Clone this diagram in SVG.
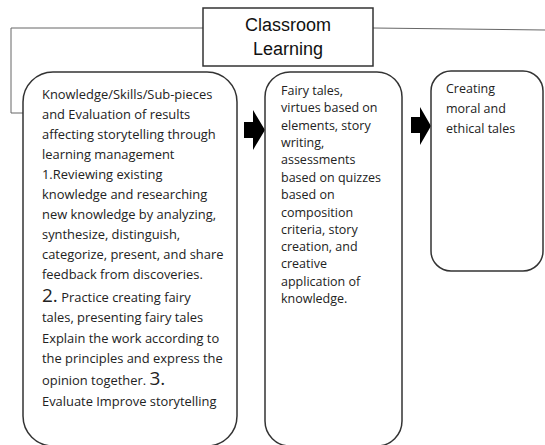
<svg xmlns="http://www.w3.org/2000/svg" width="545" height="445" viewBox="0 0 545 445">
<style>
.box{fill:#fff;stroke:#333;stroke-width:1.5}
.ln{fill:none;stroke:#666;stroke-width:1}
.t{font-family:"Open Sans","Liberation Sans",sans-serif;font-size:12.5px;fill:#222}
.tl{font-size:12.9px}
.big{font-size:19px}
.title{font-family:"Liberation Sans",Arial,sans-serif;font-size:18px;fill:#111;text-anchor:middle}
.arr{fill:#000}
</style>
<rect width="545" height="445" fill="#fff"/>
<g id="connectors">
<polyline class="ln" points="203,28 11,28 11,113 27,113"/>
<line class="ln" x1="373" y1="28" x2="545" y2="30"/>
<polygon class="arr" points="244,122 253,122 253,110 265,130 253,150 253,138 244,138"/>
<polygon class="arr" points="411,117 420,117 420,107 431,126 420,145 420,133 411,133"/>
</g>
<g id="title">
<rect x="203" y="8" width="170" height="58" fill="#fff" stroke="#333" stroke-width="1.5"/>
<text class="title" x="288" y="31">Classroom</text>
<text class="title" x="288" y="55">Learning</text>
</g>
<g id="knowledge">
<rect class="box" x="23" y="72" width="214" height="374" rx="30" ry="30"/>
<g class="t tl">
<text x="42" y="99">Knowledge/Skills/Sub-pieces</text>
<text x="42" y="119">and Evaluation of results</text>
<text x="42" y="139">affecting storytelling through</text>
<text x="42" y="159">learning management</text>
<text x="42" y="179">1.Reviewing existing</text>
<text x="42" y="199">knowledge and researching</text>
<text x="42" y="219">new knowledge by analyzing,</text>
<text x="42" y="239">synthesize, distinguish,</text>
<text x="42" y="259">categorize, present, and share</text>
<text x="42" y="279">feedback from discoveries.</text>
<text x="42" y="302"><tspan class="big">2.</tspan> Practice creating fairy</text>
<text x="42" y="322">tales, presenting fairy tales</text>
<text x="42" y="343">Explain the work according to</text>
<text x="42" y="363">the principles and express the</text>
<text x="42" y="385">opinion together. <tspan class="big">3.</tspan></text>
<text x="42" y="406">Evaluate Improve storytelling</text>
</g>
</g>
<g id="fairy-tales">
<rect class="box" x="265" y="72" width="137" height="374" rx="25" ry="25"/>
<g class="t">
<text x="281" y="95">Fairy tales,</text>
<text x="281" y="112">virtues based on</text>
<text x="281" y="130">elements, story</text>
<text x="281" y="147">writing,</text>
<text x="281" y="164">assessments</text>
<text x="281" y="182">based on quizzes</text>
<text x="281" y="199">based on</text>
<text x="281" y="217">composition</text>
<text x="281" y="234">criteria, story</text>
<text x="281" y="251">creation, and</text>
<text x="281" y="268">creative</text>
<text x="281" y="286">application of</text>
<text x="281" y="303">knowledge.</text>
</g>
</g>
<g id="moral-tales">
<rect class="box" x="431" y="71" width="112" height="200" rx="20" ry="20"/>
<g class="t">
<text x="446" y="93">Creating</text>
<text x="446" y="113">moral and</text>
<text x="446" y="133">ethical tales</text>
</g>
</g>
</svg>
